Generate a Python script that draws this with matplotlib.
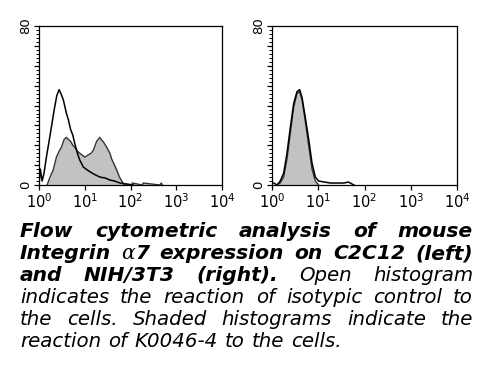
import matplotlib
matplotlib.use("Agg")
import matplotlib.pyplot as plt
from matplotlib.ticker import LogLocator, NullFormatter, MultipleLocator

plt.rcParams["font.family"] = ["DejaVu Sans"]
plt.rcParams["mathtext.fontset"] = "dejavusans"

# C2C12 (left): isotype control (open) and K0046-4 (shaded)
c2c12_iso_x = [1.0, 1.07, 1.17, 1.29, 1.45, 1.66, 1.86, 2.19, 2.45, 2.75, 3.02, 3.39,
               3.98, 4.37, 4.9, 5.5, 6.03, 6.92, 7.76, 9.33, 10.7, 12.9, 15.8, 21.4,
               28.2, 35.5, 44.7, 58.9, 83.2, 115]
c2c12_iso_y = [0, 8, 2, 6, 14, 22, 29, 39, 45, 48, 46, 43,
               36, 33, 28, 25, 21, 16, 12.6, 9, 8, 6.7, 5.5, 4,
               3.5, 2.5, 2, 1, 0.5, 0]
c2c12_ab_x = [1.51, 1.74, 2.04, 2.4, 2.75, 3.09, 3.55, 3.98, 4.37, 4.9, 5.5, 6.03,
              6.92, 7.76, 8.91, 10, 11.7, 13.8, 15.5, 18.2, 21.4, 23.4, 25.1, 30.2,
              35.5, 38.9, 44.7, 50.1, 57.5, 64.6, 72.4, 105, 110, 180, 190, 440, 470, 500]
c2c12_ab_y = [0, 4, 7.5, 14, 17, 19, 23, 24, 23, 22, 20, 19,
              17, 16, 15, 14, 15, 16, 17.6, 22, 24, 22.5, 22, 19,
              16, 13, 10, 7.5, 4, 2, 0, 0, 1, 0, 1, 0, 1, 0]

# NIH/3T3 (right)
nih_iso_x = [1.0, 1.1, 1.28, 1.51, 1.79, 2.11, 2.49, 2.94, 3.47, 3.96, 4.46, 5.25,
             6.21, 7.33, 8.65, 10.2, 18.2, 35.5, 45, 58.9]
nih_iso_y = [1, 1, 0, 2, 6, 16, 29, 41, 47, 48, 44, 34,
             23, 11, 4, 2, 1, 1, 1.5, 0]
nih_ab_x = [1.28, 1.51, 1.79, 2.11, 2.49, 2.94, 3.47, 3.96, 4.46, 5.25, 6.21, 7.33,
            8.65, 10.2]
nih_ab_y = [0, 1, 4, 13, 26, 39, 46, 47, 43, 32, 20, 8,
            2, 0]

x_ticks = [1, 10, 100, 1000, 10000]
x_labels = [r"$10^{0}$", r"$10^{1}$", r"$10^{2}$", r"$10^{3}$", r"$10^{4}$"]
y_ticks = [0, 10, 20, 30, 40, 50, 60, 70, 80]
y_labels = ["0", "", "", "", "", "", "", "", "80"]

fig = plt.figure(figsize=(5, 3.73), dpi=100)
ax1 = fig.add_axes([0.078, 0.504, 0.366, 0.426])
ax2 = fig.add_axes([0.544, 0.504, 0.37, 0.426])

panels = [
    (ax1, c2c12_iso_x, c2c12_iso_y, c2c12_ab_x, c2c12_ab_y),
    (ax2, nih_iso_x, nih_iso_y, nih_ab_x, nih_ab_y),
]
for ax, ix, iy, sx, sy in panels:
    ax.fill_between(sx, sy, color="#c2c2c2", lw=0)
    ax.plot(sx, sy, color="#333333", lw=1.0)
    ax.plot(ix, iy, color="black", lw=1.1)
    ax.set_xscale("log")
    ax.set_xlim(1, 1e4)
    ax.set_ylim(0, 80)
    ax.set_xticks(x_ticks)
    ax.set_xticklabels(x_labels, fontsize=10.5)
    ax.xaxis.set_minor_locator(LogLocator(base=10, subs=range(2, 10)))
    ax.xaxis.set_minor_formatter(NullFormatter())
    ax.set_yticks(y_ticks)
    ax.set_yticklabels(y_labels, fontsize=9.5, rotation=90, va="center")
    ax.yaxis.set_minor_locator(MultipleLocator(2))
    ax.tick_params(direction="out", length=3.5, width=0.9, pad=1.5)
    ax.tick_params(which="minor", direction="out", length=2.2, width=0.7)
    for sp in ax.spines.values():
        sp.set_linewidth(0.9)

# caption, justified like the source
fam = ["DejaVu Sans"]
bold = dict(fontweight="bold", fontstyle="italic", fontsize=14.6, family=fam)
reg = dict(fontweight="normal", fontstyle="italic", fontsize=14.2, family=fam)
alpha = dict(fontweight="normal", fontstyle="italic", fontsize=14.6, family=["DejaVu Serif"])

lines = [
    [[("Flow", bold)], [("cytometric", bold)], [("analysis", bold)], [("of", bold)], [("mouse", bold)]],
    [[("Integrin", bold)], [("\u03b1", alpha), ("7", bold)], [("expression", bold)], [("on", bold)],
     [("C2C12", bold)], [("(left)", bold)]],
    [[("and", bold)], [("NIH/3T3", bold)], [("(right).", bold)], [("Open", reg)], [("histogram", reg)]],
    [[(w, reg)] for w in "indicates the reaction of isotypic control to".split()],
    [[(w, reg)] for w in "the cells. Shaded histograms indicate the".split()],
    [[(w, reg)] for w in "reaction of K0046-4 to the cells.".split()],
]

W, H = 500.0, 373.0
left_px, right_px = 20.0, 473.0
last_gap = 7.0
base0, step = 237.0, 22.0
renderer = fig.canvas.get_renderer()

for i, words in enumerate(lines):
    y = 1 - (base0 + i * step) / H
    objs = []
    for word in words:
        pieces = []
        for s, props in word:
            t = fig.text(0, y, s, va="baseline", ha="left", **props)
            pieces.append((t, t.get_window_extent(renderer).width))
        objs.append(pieces)
    widths = [sum(w for _, w in p) for p in objs]
    if i < len(lines) - 1:
        gap = (right_px - left_px - sum(widths)) / (len(objs) - 1)
    else:
        gap = last_gap
    x = left_px
    for pieces, w in zip(objs, widths):
        xx = x
        for t, pw in pieces:
            t.set_x(xx / W)
            xx += pw
        x += w + gap

fig.savefig("out.png", dpi=100)
